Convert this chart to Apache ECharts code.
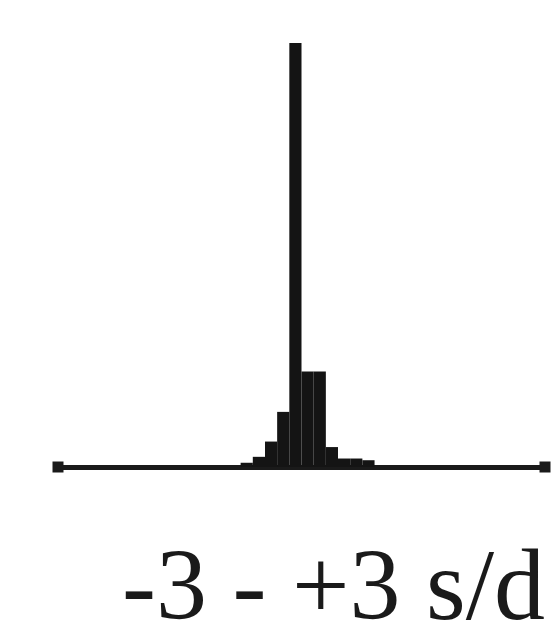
<!DOCTYPE html>
<html>
<head>
<meta charset="utf-8">
<script src="https://cdn.jsdelivr.net/npm/echarts@6/dist/echarts.min.js"></script>
<style>html,body{margin:0;padding:0;background:#fff;}#c{width:555px;height:629px;}</style>
</head>
<body>
<div id="c"></div>
<script>
// 40 bins of 0.15 s/d from -3 to +3
var binStarts = [];
for (var k = 0; k < 40; k++) binStarts.push((-3 + k * 0.15).toFixed(2));
var counts = [0,0,0,0,0,0,0,0,0,0,
              0,0,0,0,0,1,2.4,6,13,100,
              22.5,22.5,4.7,2,2,1.6,0,0,0,0,
              0,0,0,0,0,0,0,0,0,0];
var axisLabel = '-3 - +3 s/d';

var chart = echarts.init(document.getElementById('c'), null, {renderer:'canvas'});
chart.setOption({
  backgroundColor: '#fff',
  animation: false,
  grid: {left: 58, right: 10, top: 43, bottom: 162},
  xAxis: {
    type: 'category',
    data: binStarts,
    boundaryGap: true,
    axisLine: {show: true, lineStyle: {color: '#1a1a1a', width: 5}, symbol: ['rect','rect'], symbolSize: [11, 11]},
    axisTick: {show: false},
    axisLabel: {show: false},
    splitLine: {show: false}
  },
  yAxis: {
    type: 'value', min: 0, max: 100,
    show: false
  },
  series: [{
    type: 'bar',
    data: counts,
    barCategoryGap: '0%',
    itemStyle: {color: '#141414'},
    z: 3
  }],
  graphic: [{
    type: 'text',
    left: 122,
    top: 541,
    style: {
      text: axisLabel,
      font: '102px "Liberation Serif", "DejaVu Serif", serif',
      fill: '#1a1a1a'
    }
  }]
});
</script>
</body>
</html>
